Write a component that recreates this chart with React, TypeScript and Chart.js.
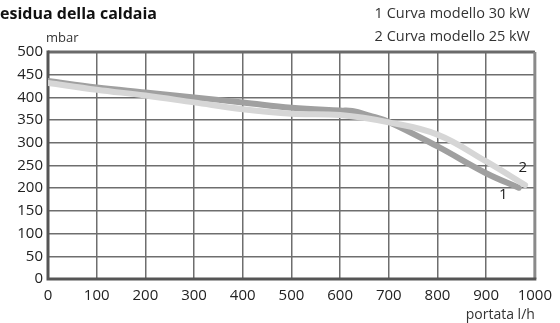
import React, { useEffect, useRef } from "react";
import { Chart, registerables } from "chart.js";
Chart.register(...registerables);

const titleText = "esidua della caldaia";
const legendLines = ["1 Curva modello 30 kW", "2 Curva modello 25 kW"];
const yUnit = "mbar";
const xUnit = "portata l/h";

const curve1X = [0, 100, 200, 300, 400, 500, 600, 625, 660, 700, 800, 900, 967];
const curve1Y = [436, 422, 411, 400, 389, 377, 371, 370, 360, 346, 292, 233, 201];
const curve2X = [0, 100, 200, 300, 400, 500, 600, 700, 800, 900, 980];
const curve2Y = [432, 417, 404, 389, 374, 364, 361, 345, 318, 259, 207];
const curveTags = ["1", "2"];
const tagX = [935, 975];
const tagY = [185, 246];

const FONT = "'Open Sans', sans-serif";

export default function App() {
  const ref = useRef<HTMLCanvasElement>(null);
  useEffect(() => {
    document.body.style.margin = "0";
    const overlay = {
      id: "overlay",
      beforeDatasetsDraw(chart: any) {
        const { ctx, chartArea: a } = chart;
        ctx.save();
        ctx.lineWidth = 3;
        ctx.strokeStyle = "#6a6a6a";
        ctx.beginPath();
        ctx.moveTo(a.left, a.top);
        ctx.lineTo(a.right, a.top);
        ctx.stroke();
        ctx.strokeStyle = "#8a8a8a";
        ctx.beginPath();
        ctx.moveTo(a.right, a.top);
        ctx.lineTo(a.right, a.bottom);
        ctx.stroke();
        ctx.strokeStyle = "#555";
        ctx.beginPath();
        ctx.moveTo(a.left, a.top - 1.5);
        ctx.lineTo(a.left, a.bottom);
        ctx.lineTo(a.right + 1.5, a.bottom);
        ctx.stroke();
        ctx.restore();
      },
      afterDraw(chart: any) {
        const { ctx, chartArea: a, scales } = chart;
        ctx.save();
        ctx.fillStyle = "#111";
        ctx.font = `bold 16px ${FONT}`;
        ctx.textAlign = "left";
        ctx.textBaseline = "middle";
        ctx.fillText(titleText, 0, 14);
        ctx.font = `14.5px ${FONT}`;
        ctx.fillStyle = "#333";
        ctx.textAlign = "right";
        ctx.fillText(legendLines[0], 530, 14);
        ctx.fillText(legendLines[1], 530, 37);
        ctx.font = `13px ${FONT}`;
        ctx.textAlign = "left";
        ctx.fillText(yUnit, a.left - 2, 38);
        ctx.font = `14px ${FONT}`;
        ctx.textAlign = "right";
        ctx.fillText(xUnit, a.right, 315);
        ctx.font = `15px ${FONT}`;
        ctx.fillStyle = "#222";
        ctx.textAlign = "center";
        for (let i = 0; i < curveTags.length; i++) {
          ctx.fillText(
            curveTags[i],
            scales.x.getPixelForValue(tagX[i]),
            scales.y.getPixelForValue(tagY[i])
          );
        }
        ctx.restore();
      },
    };
    const chart = new Chart(ref.current!, {
      type: "line",
      data: {
        datasets: [
          {
            data: curve2X.map((x, i) => ({ x, y: curve2Y[i] })),
            borderColor: "#d6d6d6",
            borderWidth: 6,
            pointRadius: 0,
            tension: 0.4,
            borderCapStyle: "round",
          },
          {
            data: curve1X.map((x, i) => ({ x, y: curve1Y[i] })),
            borderColor: "#a0a0a0",
            borderWidth: 6,
            pointRadius: 0,
            tension: 0.4,
            borderCapStyle: "round",
          },
        ],
      },
      options: {
        animation: false,
        responsive: false,
        layout: { padding: { top: 52, right: 22, left: 0, bottom: 0 } },
        plugins: { legend: { display: false }, tooltip: { enabled: false } },
        scales: {
          x: {
            type: "linear",
            min: 0,
            max: 1000,
            afterFit: (s: any) => {
              s.height = 44;
            },
            ticks: {
              stepSize: 100,
              color: "#222",
              font: { family: FONT, size: 15 },
              padding: 8,
              maxRotation: 0,
              callback: (v: any) => String(v),
            },
            grid: { color: "#6e6e6e", lineWidth: 1.5, drawTicks: false },
            border: { display: false },
          },
          y: {
            min: 0,
            max: 500,
            afterFit: (s: any) => {
              s.width = 48;
            },
            ticks: {
              stepSize: 50,
              color: "#222",
              font: { family: FONT, size: 15 },
              padding: 5,
              callback: (v: any) => String(v),
            },
            grid: { color: "#6e6e6e", lineWidth: 1.5, drawTicks: false },
            border: { display: false },
          },
        },
      },
      plugins: [overlay],
    } as any);
    return () => chart.destroy();
  }, []);
  return <canvas ref={ref} width={560} height={323} style={{ display: "block" }} />;
}
